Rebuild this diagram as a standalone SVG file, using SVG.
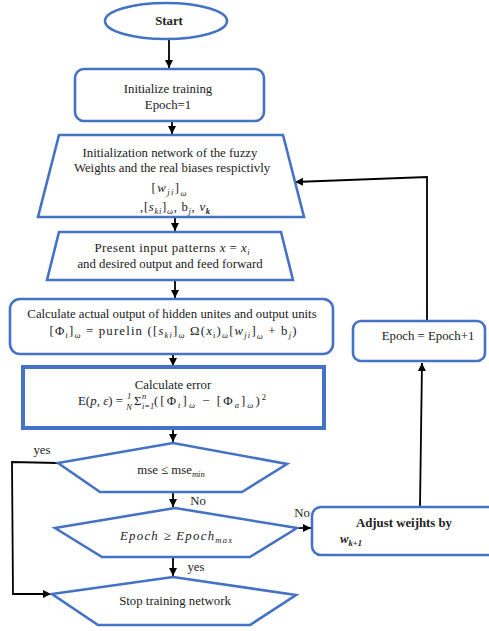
<svg xmlns="http://www.w3.org/2000/svg" width="489" height="631" viewBox="0 0 489 631">
<defs>
<style>
.n{fill:#fff;stroke:#4472C4;stroke-width:2.6}
.thick{stroke-width:4}
.t{font-family:"Liberation Serif",serif;font-size:12.8px;fill:#222;text-anchor:middle}
.s{text-anchor:start}
.b{font-weight:bold}
.i{font-style:italic}
.sm{font-size:8.5px}
.c path{fill:none;stroke:#000;stroke-width:1.8;marker-end:url(#ah)}
.c line{stroke:#000;stroke-width:1.8;marker-end:url(#ah)}
</style>
<marker id="ah" markerUnits="userSpaceOnUse" markerWidth="9" markerHeight="9" refX="8" refY="4" orient="auto">
<path d="M0,0 L8,4 L0,8 z" fill="#000"/>
</marker>
</defs>
<rect width="489" height="631" fill="#fff"/>

<g class="c" id="connectors">
<line x1="169" y1="39" x2="169" y2="68"/>
<line x1="172" y1="122" x2="172" y2="134"/>
<line x1="175" y1="218" x2="175" y2="231"/>
<line x1="175" y1="280" x2="175" y2="298"/>
<line x1="173" y1="355" x2="173" y2="366"/>
<line x1="173" y1="430" x2="173" y2="442"/>
<line x1="173" y1="492" x2="173" y2="507"/>
<line x1="173" y1="558" x2="173" y2="576"/>
<path d="M58,463 L12,462 L13,594 L51,594"/>
<line x1="297" y1="528" x2="311" y2="528"/>
<line x1="420" y1="506" x2="422" y2="363"/>
<path d="M427,321 L427,177 L295,182"/>
</g>

<g id="start">
<ellipse class="n" cx="166" cy="21" rx="61" ry="18"/>
<text class="t b" x="169" y="25">Start</text>
</g>

<g id="init">
<rect class="n" x="75" y="69" width="189" height="52" rx="9"/>
<text class="t" x="168" y="93">Initialize training</text>
<text class="t" x="168" y="109">Epoch=1</text>
</g>

<g id="initnet">
<polygon class="n" points="59,135 283,135 304,217 38,217"/>
<text class="t" x="170" y="157">Initialization network of the fuzzy</text>
<text class="t" x="172" y="172">Weights and the real biases respictivly</text>
<text class="t" x="169" y="192" textLength="35" lengthAdjust="spacing">[<tspan class="i">w</tspan><tspan class="sm i" dy="3">ji</tspan><tspan dy="-3">]</tspan><tspan class="sm i" dy="4">ω</tspan></text>
<text class="t" x="175" y="211" textLength="70" lengthAdjust="spacing">,[<tspan class="i">s</tspan><tspan class="sm i" dy="3">ki</tspan><tspan dy="-3">]</tspan><tspan class="sm i" dy="3">ω</tspan><tspan dy="-3">, b</tspan><tspan class="sm i" dy="3">j</tspan><tspan dy="-3">, </tspan><tspan class="i">v</tspan><tspan class="sm i b" dy="3">k</tspan></text>
</g>

<g id="present">
<polygon class="n" points="59,232 281,232 293,280 47,280"/>
<text class="t" x="172" y="252" textLength="155" lengthAdjust="spacing">Present input patterns  <tspan class="i">x</tspan> = <tspan class="i">x</tspan><tspan class="sm i" dy="3">i</tspan></text>
<text class="t" x="170" y="268">and desired output and feed forward</text>
</g>

<g id="calcout">
<rect class="n" x="10" y="299" width="323" height="55" rx="10"/>
<text class="t" x="172" y="318">Calculate actual output of hidden unites and output units</text>
<text class="t" x="173" y="335" textLength="247" lengthAdjust="spacing">[Φ<tspan class="sm i" dy="3">t</tspan><tspan dy="-3">]</tspan><tspan class="sm i" dy="3">ω</tspan><tspan dy="-3"> = purelin ([</tspan><tspan class="i">s</tspan><tspan class="sm i" dy="3">ki</tspan><tspan dy="-3">]</tspan><tspan class="sm i" dy="3">ω</tspan><tspan dy="-3"> Ω(</tspan><tspan class="i">x</tspan><tspan class="sm" dy="3">i</tspan><tspan dy="-3">)</tspan><tspan class="sm i" dy="3">ω</tspan><tspan dy="-3">[</tspan><tspan class="i">w</tspan><tspan class="sm i" dy="3">ji</tspan><tspan dy="-3">]</tspan><tspan class="sm i" dy="4">ω</tspan><tspan dy="-4"> + b</tspan><tspan class="sm i" dy="3">j</tspan><tspan dy="-3">)</tspan></text>
</g>

<g id="error">
<rect class="n thick" x="23" y="367" width="301" height="61"/>
<text class="t" x="173" y="389">Calculate error</text>
<text class="t s" x="78" y="405" textLength="45" lengthAdjust="spacing">E(<tspan class="i">p</tspan>, <tspan class="i">ε</tspan>) =</text>
<text class="t sm i" x="129" y="399">1</text>
<text class="t sm i" x="129" y="410">N</text>
<text class="t s" x="134" y="405">Σ</text>
<text class="t s sm i" x="142" y="399">n</text>
<text class="t s sm i" x="142" y="409">i=1</text>
<text class="t s" x="154" y="405" textLength="112" lengthAdjust="spacing">([Φ<tspan class="sm i" dy="3">t</tspan><tspan dy="-3">]</tspan><tspan class="sm i" dy="3">ω</tspan><tspan dy="-3"> − [Φ</tspan><tspan class="sm i" dy="3">a</tspan><tspan dy="-3">]</tspan><tspan class="sm i" dy="3">ω</tspan><tspan dy="-3">)</tspan><tspan class="sm" dy="-5">2</tspan></text>
</g>

<g id="msecheck">
<polygon class="n" points="58,463 173,443 287,464 242,492 100,492"/>
<text class="t" x="171" y="474">mse ≤  mse<tspan class="sm i" dy="3">min</tspan></text>
</g>

<g id="epochcheck">
<polygon class="n" points="55,528 175,508 297,528 250,557 102,557"/>
<text class="t i" x="176" y="540" textLength="112" lengthAdjust="spacing">Epoch  ≥  Epoch<tspan class="sm" dy="3">max</tspan></text>
</g>

<g id="stop">
<polygon class="n" points="52,594 173,577 296,595 250,625 98,625"/>
<text class="t" x="175" y="605">Stop training network</text>
</g>

<g id="increment">
<rect class="n" x="353" y="321" width="132" height="40" rx="8"/>
<text class="t" x="428" y="340">Epoch = Epoch+1</text>
</g>

<g id="adjust">
<rect class="n" x="312" y="507" width="185" height="48" rx="9"/>
<text class="t b" x="404" y="527">Adjust weijhts by</text>
<text class="t s b i" x="340" y="543">w<tspan class="sm" dy="3">k+1</tspan></text>
</g>

<g id="labels">
<text class="t" x="42" y="454">yes</text>
<text class="t" x="198" y="505">No</text>
<text class="t" x="196" y="571">yes</text>
<text class="t" x="302" y="517">No</text>
</g>
</svg>
